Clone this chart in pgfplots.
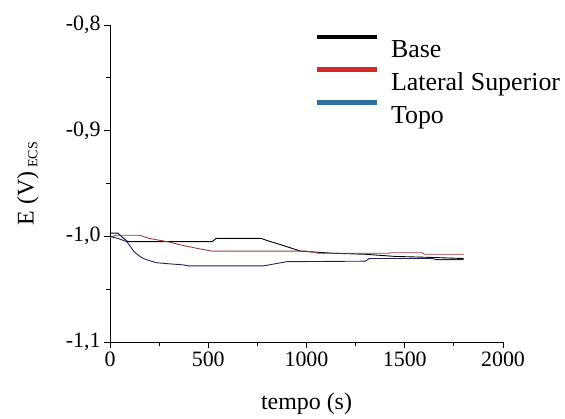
\documentclass[border=0pt]{standalone}
\usepackage{pgfplots}
\pgfplotsset{compat=1.18}
\usepackage{fontspec}
\setmainfont{Liberation Serif}

\definecolor{lnred}{HTML}{9A3B3B}
\definecolor{lnblue}{HTML}{23235E}
\definecolor{lgred}{HTML}{D62728}
\definecolor{lgblue}{HTML}{2E6E9E}

\begin{document}
\begin{tikzpicture}
\begin{axis}[
  name=ax,
  scale only axis,
  width=393bp, height=317bp,
  xmin=0, xmax=2000, ymin=-1.1, ymax=-0.8,
  xtick={0,500,...,2000},
  ytick={-1.1,-1.0,-0.9,-0.8},
  minor x tick num=1, minor y tick num=1,
  axis x line*=bottom, axis y line*=left,
  axis line style={-, line width=0.9pt},
  tick style={black, line width=0.9pt},
  tick align=outside,
  major tick length=6bp, minor tick length=4bp,
  /pgf/number format/assume math mode=true,
  yticklabel style={/pgf/number format/.cd, use comma, fixed, fixed zerofill, precision=1},
  xticklabel style={/pgf/number format/1000 sep=},
  tick label style={font=\fontsize{22}{22}\selectfont},
  xlabel={tempo (s)},
  ylabel={E (V)\,\textsubscript{\fontsize{14}{14}\selectfont ECS}},
  label style={font=\fontsize{24}{26}\selectfont},
  xlabel style={at={(axis description cs:0.5,-0.196)}, anchor=center},
  ylabel style={at={(axis description cs:-0.209,0.5)}, anchor=center},
  clip=false,
  legend style={at={(rel axis cs:0.52,0.97)}, anchor=north west, draw=none, fill=none,
    inner sep=0pt, font=\fontsize{26}{26}\selectfont, row sep=6bp,
    column sep=10bp, cells={anchor=west}},
  legend image code/.code={\draw[#1, line width=4.5bp] (0bp,13bp) -- (60bp,13bp);},
]
% Base
\addplot[black, line width=0.9pt, forget plot] coordinates {
(0,-0.997) (40,-0.997) (70,-1.002) (90,-1.005) (200,-1.005) (520,-1.005)
(540,-1.002) (770,-1.002) (800,-1.004) (870,-1.008) (920,-1.011) (970,-1.014)
(1050,-1.015) (1135,-1.016) (1300,-1.017) (1450,-1.019) (1640,-1.020) (1800,-1.021)};
% Lateral Superior
\addplot[lnred, line width=0.9pt, forget plot] coordinates {
(0,-1.001) (30,-0.999) (150,-0.999) (200,-1.002) (290,-1.005) (380,-1.009)
(460,-1.012) (520,-1.014) (1000,-1.014) (1060,-1.016) (1420,-1.016)
(1430,-1.0155) (1590,-1.0155) (1600,-1.017) (1800,-1.017)};
% Topo
\addplot[lnblue, line width=0.9pt, forget plot] coordinates {
(0,-1.000) (40,-1.002) (85,-1.005) (105,-1.010) (120,-1.014) (145,-1.018)
(170,-1.021) (200,-1.023) (237,-1.025) (300,-1.026) (373,-1.027) (400,-1.028)
(780,-1.028) (840,-1.026) (900,-1.024) (1300,-1.0235) (1320,-1.021)
(1640,-1.021) (1660,-1.022) (1800,-1.022)};
\addlegendimage{black}
\addlegendentry{Base}
\addlegendimage{lgred}
\addlegendentry{Lateral Superior}
\addlegendimage{lgblue}
\addlegendentry{Topo}
\end{axis}
% white margin as in the reference
\path ([xshift=-110bp,yshift=-75bp]ax.south west) rectangle ([xshift=62bp,yshift=25bp]ax.north east);
\end{tikzpicture}
\end{document}
